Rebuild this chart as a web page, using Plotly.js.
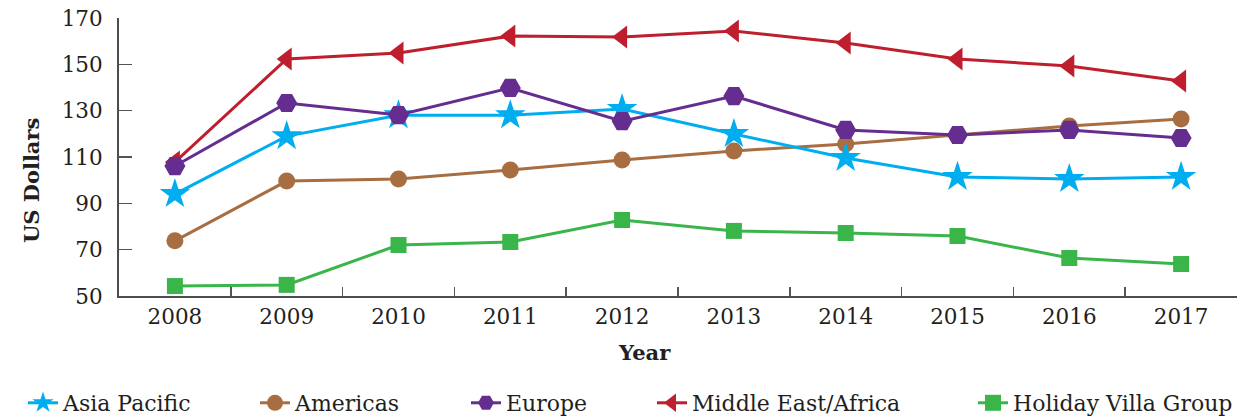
<!DOCTYPE html>
<html>
<head>
<meta charset="utf-8">
<script src="https://cdn.plot.ly/plotly-3.0.1.min.js"></script>
<style>
html,body{margin:0;padding:0;background:#fff;}
#chart{width:1238px;height:416px;}
</style>
</head>
<body>
<div id="chart"></div>
<script>
const years = ["2008","2009","2010","2011","2012","2013","2014","2015","2016","2017"];
const asiaPacific = [94, 119, 128, 128, 130.7, 119.9, 109.6, 101.4, 100.5, 101.4];
const americas = [73.8, 99.6, 100.5, 104.4, 108.7, 112.6, 115.6, 119.5, 123.4, 126.4];
const europe = [106.1, 133.3, 128.1, 139.8, 125.5, 136.3, 121.7, 119.5, 121.7, 118.2];
const middleEastAfrica = [107.8, 152.3, 154.9, 162.2, 161.8, 164.4, 159.2, 152.3, 149.3, 142.8];
const holidayVilla = [54.3, 54.8, 72.0, 73.3, 82.8, 78.1, 77.2, 75.9, 66.4, 63.8];
const seriesNames = ["Asia Pacific","Americas","Europe","Middle East/Africa","Holiday Villa Group"];

const FONT = '"DejaVu Serif", "Liberation Serif", serif';
const TXT = '#231f20';

function tr(name, y, color, symbol, size, leg){
  return {
    type:'scatter', mode:'lines+markers', x: years, y: y, name: name,
    line:{color:color, width:3},
    marker:{color:color, symbol:symbol, size:size},
    legend: leg
  };
}
const data = [
  tr(seriesNames[3], middleEastAfrica, '#be1e2d', 'triangle-left', 20, 'legend4'),
  tr(seriesNames[1], americas, '#a86d41', 'circle', 17, 'legend2'),
  tr(seriesNames[0], asiaPacific, '#00aeef', 'star', 23, 'legend'),
  tr(seriesNames[2], europe, '#662d91', 'hexagon2', 21, 'legend3'),
  tr(seriesNames[4], holidayVilla, '#39b54a', 'square', 16, 'legend5')
];

const plotL = 119, plotW = 1118, plotT = 18, plotH = 278;
function lx(px){ return (px - plotL)/plotW; }
const ly = (plotT + plotH - 403)/plotH;
function legendAt(px){
  return {x: lx(px), xanchor:'left', y: ly, yanchor:'middle', orientation:'h',
          font:{family:FONT, size:22, color:TXT}, bgcolor:'rgba(0,0,0,0)', itemwidth:30};
}

const layout = {
  width:1238, height:416,
  margin:{l:plotL, r:1238-plotL-plotW, t:plotT, b:416-plotT-plotH, autoexpand:false},
  paper_bgcolor:'#fff', plot_bgcolor:'#fff',
  showlegend:true,
  legend: legendAt(23),
  legend2: legendAt(255),
  legend3: legendAt(466),
  legend4: legendAt(652),
  legend5: legendAt(973),
  xaxis:{
    type:'category', range:[-0.5, 9.5], tickson:'boundaries',
    ticks:'inside', ticklen:9, tickwidth:1.5, tickcolor:'#555',
    showline:true, linecolor:'#4d4d4d', linewidth:2,
    showgrid:false, zeroline:false,
    tickfont:{family:FONT, size:21.5, color:TXT},
    title:{text:'<b>Year</b>&nbsp;&nbsp;&nbsp;&nbsp;&nbsp;&nbsp;&nbsp;&nbsp;&nbsp;&nbsp;', font:{family:FONT, size:21, color:TXT}, standoff:18}
  },
  yaxis:{
    range:[50,170], tick0:50, dtick:20,
    ticks:'inside', ticklen:13, tickwidth:1.5, tickcolor:'#555',
    showline:true, linecolor:'#4d4d4d', linewidth:2,
    showgrid:false, zeroline:false,
    tickfont:{family:FONT, size:21.5, color:TXT},
    ticklabelstandoff:10,
    title:{text:'<b>US Dollars</b>&nbsp;&nbsp;&nbsp;&nbsp;&nbsp;&nbsp;&nbsp;', font:{family:FONT, size:21, color:TXT}, standoff:16}
  }
};

Plotly.newPlot('chart', data, layout, {displayModeBar:false, staticPlot:true});
</script>
</body>
</html>
